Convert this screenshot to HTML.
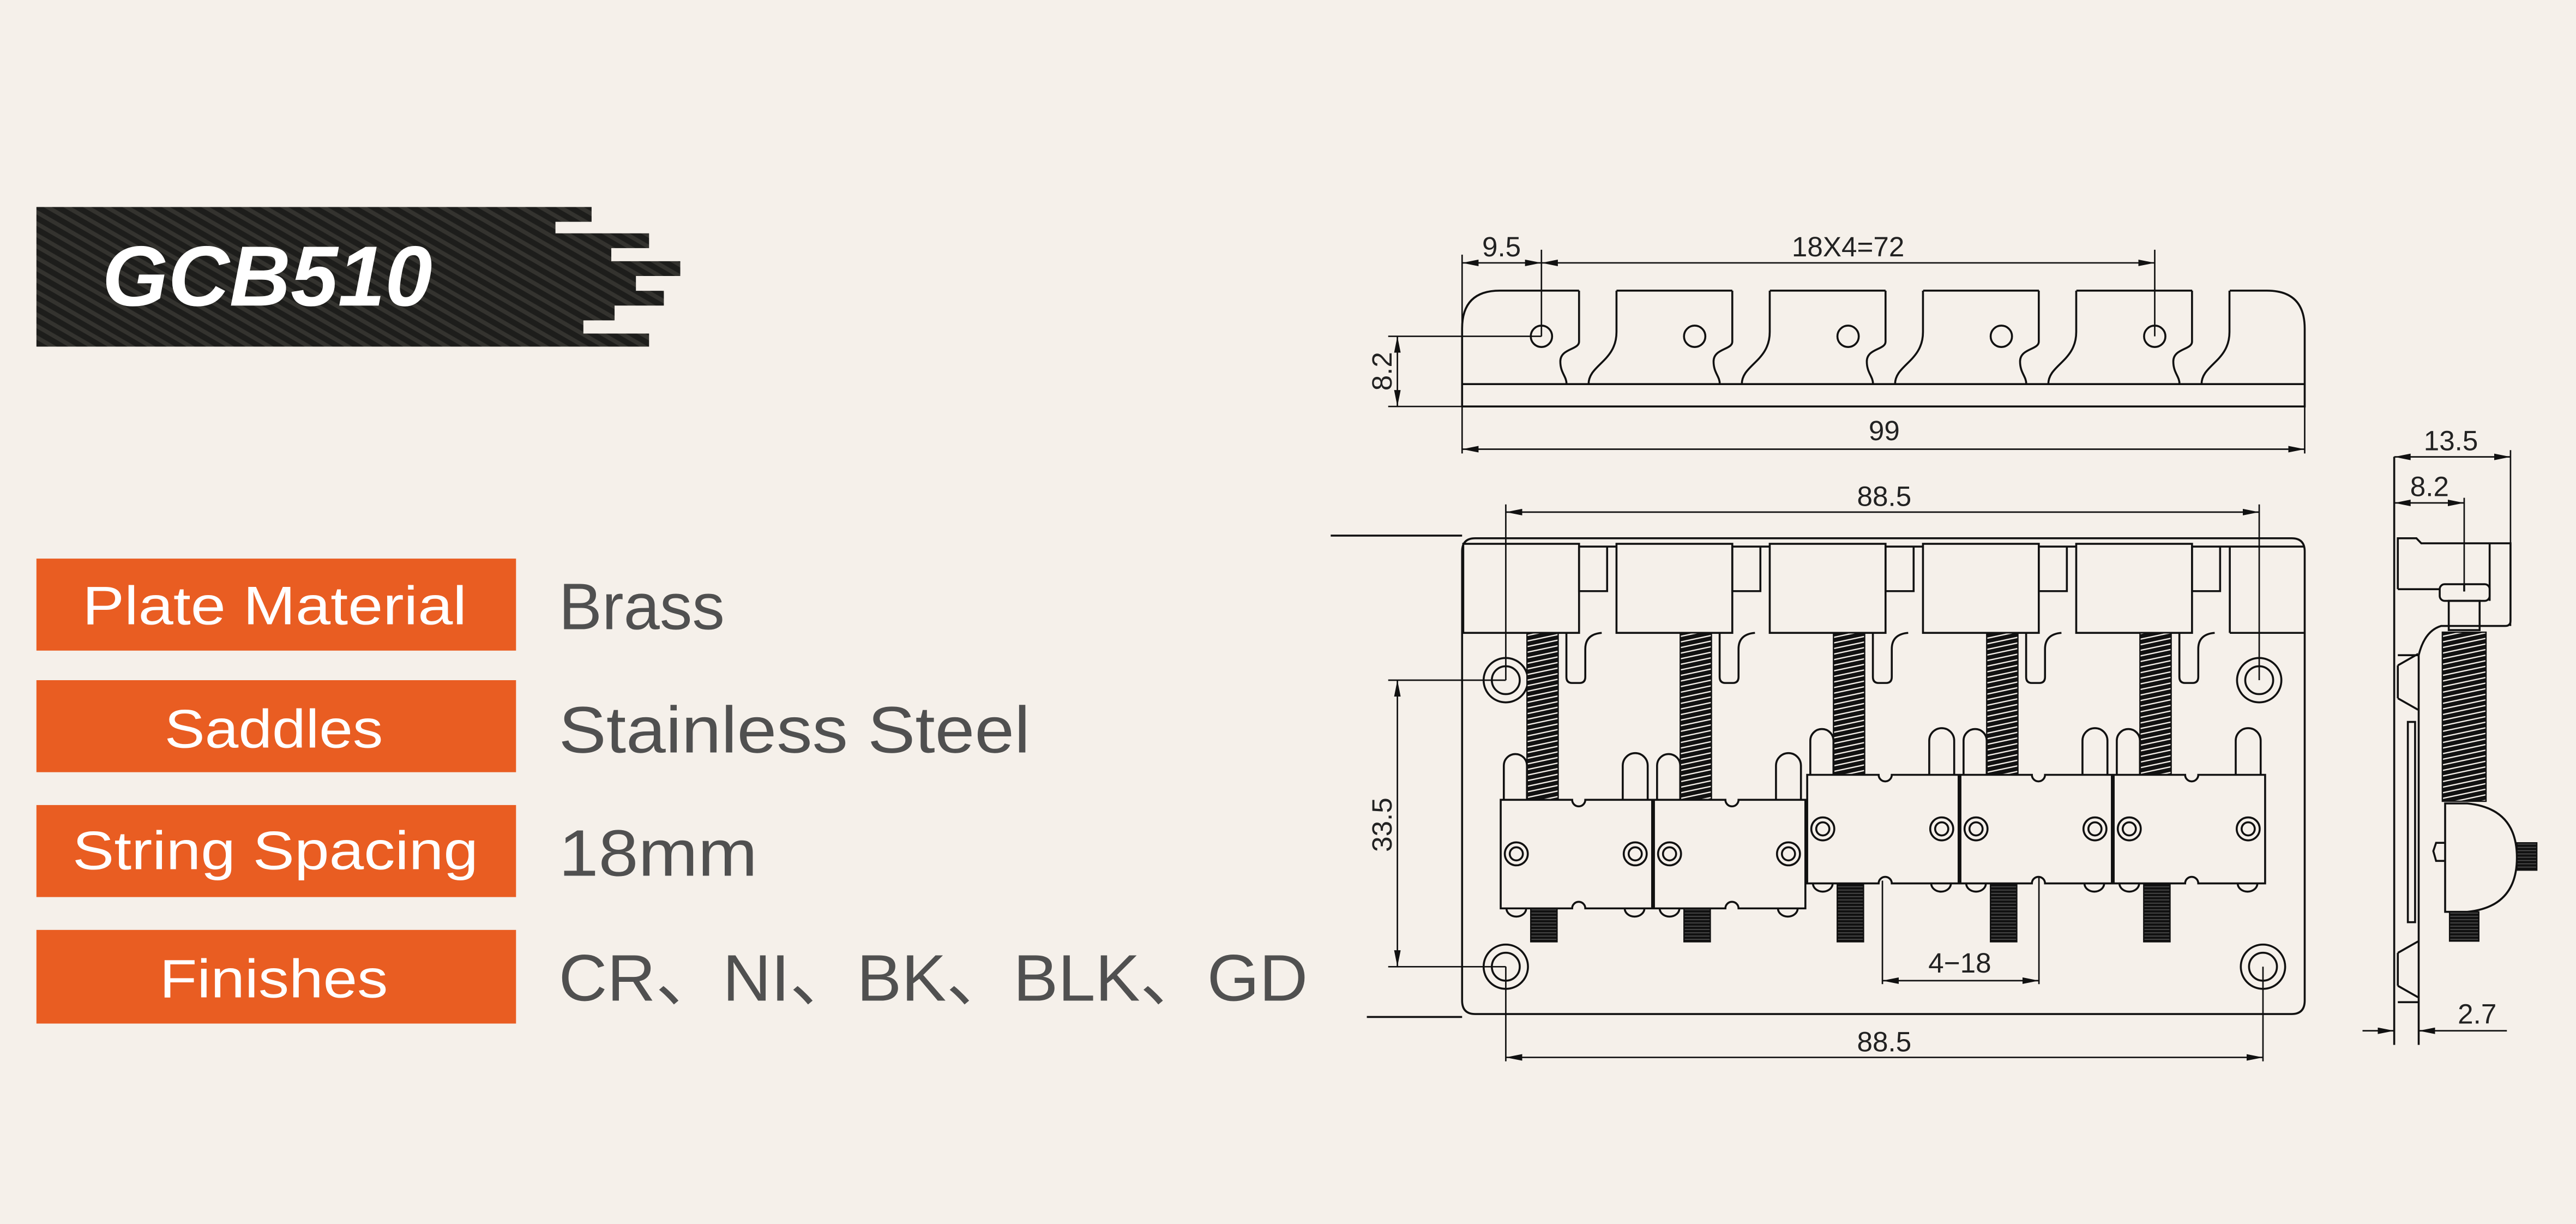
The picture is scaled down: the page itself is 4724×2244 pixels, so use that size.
<!DOCTYPE html>
<html><head><meta charset="utf-8"><style>
html,body{margin:0;padding:0;background:#f5f0ea;}
svg{display:block;}
</style></head><body>
<svg width="4724" height="2244" viewBox="0 0 1568 745" xmlns="http://www.w3.org/2000/svg">
<defs>
<pattern id="carbon" width="6" height="6" patternUnits="userSpaceOnUse" patternTransform="rotate(-60)">
<rect width="6" height="6" fill="#1d1d1b"/><rect width="2.5" height="6" fill="#34332f"/>
</pattern>
<pattern id="coil" width="20" height="3.4" patternUnits="userSpaceOnUse" patternTransform="skewY(-12)">
<rect width="20" height="3.4" fill="#111"/><rect y="2.6" width="20" height="0.8" fill="#f5f0ea"/>
</pattern>
<pattern id="thr" width="20" height="2" patternUnits="userSpaceOnUse">
<rect width="20" height="2" fill="#111"/><rect y="1.5" width="20" height="0.5" fill="#555"/>
</pattern>
<marker id="ar" viewBox="0 0 10 4" refX="10" refY="2" markerWidth="10" markerHeight="4" orient="auto-start-reverse" markerUnits="userSpaceOnUse">
<path d="M0,0 L10,2 L0,4 Z" fill="#111"/></marker>
</defs>
<rect width="1568" height="745" fill="#f5f0ea"/>

<!-- header -->
<path d="M22,126 H360 V135 H338 V142 H395 V151 H372 V159 H414 V168 H387 V177 H404 V186 H374 V195 H355 V203 H395 V211 H22 Z" fill="url(#carbon)"/>
<text x="62" y="186" font-family="Liberation Sans, sans-serif" font-weight="bold" font-style="italic" font-size="52" fill="#fff" textLength="201" lengthAdjust="spacingAndGlyphs">GCB510</text>

<!-- spec labels -->
<g font-family="Liberation Sans, sans-serif">
<rect x="22" y="340" width="292" height="56" fill="#e95d22"/>
<rect x="22" y="414" width="292" height="56" fill="#e95d22"/>
<rect x="22" y="490" width="292" height="56" fill="#e95d22"/>
<rect x="22" y="566" width="292" height="57" fill="#e95d22"/>
<g fill="#fff" font-size="33">
<text x="50" y="380" textLength="234" lengthAdjust="spacingAndGlyphs">Plate Material</text>
<text x="100" y="455" textLength="133" lengthAdjust="spacingAndGlyphs">Saddles</text>
<text x="44" y="529" textLength="247" lengthAdjust="spacingAndGlyphs">String Spacing</text>
<text x="97" y="607" textLength="139" lengthAdjust="spacingAndGlyphs">Finishes</text>
</g>
<g fill="#505050" font-size="40">
<text x="340" y="383" textLength="101" lengthAdjust="spacingAndGlyphs">Brass</text>
<text x="340" y="458" textLength="287" lengthAdjust="spacingAndGlyphs">Stainless Steel</text>
<text x="340" y="533" textLength="121" lengthAdjust="spacingAndGlyphs">18mm</text>
<text x="340" y="609" textLength="456" lengthAdjust="spacingAndGlyphs" font-family="Liberation Sans, Noto Sans CJK SC, sans-serif">CR、NI、BK、BLK、GD</text>
</g>
</g>

<!-- ===== top view ===== -->
<g fill="none" stroke="#111" stroke-width="1.2">
<path d="M890,247.4 V200 Q890,176.9 913,176.9 H961.2"/>
<path d="M984,176.9 H1054.5 M1077.4,176.9 H1147.8 M1170.7,176.9 H1241.2 M1264,176.9 H1334.5"/>
<path d="M1357.4,176.9 H1380 Q1403,176.9 1403,200 V247.4 H890"/>
<line x1="890" y1="233.8" x2="1403" y2="233.8"/>
<g id="slot">
<path d="M961.2,176.9 V208 C961.2,213 949.8,212 949.8,220 C949.8,227 953.6,229 953.6,233.8"/>
<path d="M984,176.9 V202 C984,220 967,222 967,233.8"/>
</g>
<use href="#slot" x="93.3"/><use href="#slot" x="186.6"/><use href="#slot" x="279.9"/><use href="#slot" x="373.2"/>
<circle cx="938.3" cy="204.7" r="6.5"/><circle cx="1031.6" cy="204.7" r="6.5"/><circle cx="1125" cy="204.7" r="6.5"/><circle cx="1218.3" cy="204.7" r="6.5"/><circle cx="1311.7" cy="204.7" r="6.5"/>
</g>
<!-- top view dims -->
<g stroke="#111" stroke-width="0.9" fill="none">
<line x1="890" y1="155" x2="890" y2="247"/>
<line x1="938.3" y1="152" x2="938.3" y2="204.7"/>
<line x1="1311.7" y1="152" x2="1311.7" y2="204.7"/>
<line x1="890" y1="160" x2="938.3" y2="160" marker-start="url(#ar)" marker-end="url(#ar)"/>
<line x1="938.3" y1="160" x2="1311.7" y2="160" marker-start="url(#ar)" marker-end="url(#ar)"/>
<line x1="845" y1="204.7" x2="938.3" y2="204.7"/>
<line x1="845" y1="247.4" x2="890" y2="247.4"/>
<line x1="850.6" y1="204.7" x2="850.6" y2="247.4" marker-start="url(#ar)" marker-end="url(#ar)"/>
<line x1="890" y1="247.4" x2="890" y2="276"/>
<line x1="1403" y1="247.4" x2="1403" y2="276"/>
<line x1="890" y1="273.4" x2="1403" y2="273.4" marker-start="url(#ar)" marker-end="url(#ar)"/>
</g>
<g font-family="Liberation Sans, sans-serif" font-size="17" fill="#222" text-anchor="middle">
<text x="914" y="156">9.5</text>
<text x="1125" y="156">18X4=72</text>
<text x="1147" y="268">99</text>
<text transform="translate(847,226) rotate(-90)">8.2</text>
</g>

<!-- ===== front view ===== -->
<g fill="none" stroke="#111" stroke-width="1.2">
<path d="M898,327.6 H1395 Q1403,327.6 1403,335.6 V609 Q1403,617.2 1395,617.2 H898 Q890,617.2 890,609 V335.6 Q890,327.6 898,327.6 Z"/>
<line x1="890" y1="332.7" x2="1403" y2="332.7"/>
<line x1="810" y1="326" x2="890" y2="326"/>
<line x1="832" y1="619" x2="890" y2="619"/>
<!-- head blocks -->
<g id="head">
<rect x="890.7" y="331" width="70.5" height="54.2" fill="#f5f0ea"/>
<path d="M961.2,332.7 V359.8 H978.3 V332.7"/>
<path d="M953.5,385.2 V412 Q953.5,415.7 957,415.7 H961.5 Q965,415.7 965,412 V395 Q965,386 975,385.2"/>
</g>
<use href="#head" x="93.3"/><use href="#head" x="186.6"/><use href="#head" x="279.9"/><use href="#head" x="373.2"/>
<line x1="1357.4" y1="332.7" x2="1357.4" y2="385.2"/>
<line x1="1357.4" y1="385.2" x2="1403" y2="385.2"/>
<!-- mounting holes -->
<circle cx="916.6" cy="414" r="13.5"/><circle cx="916.6" cy="414" r="8.5"/>
<circle cx="1375.3" cy="414" r="13.5"/><circle cx="1375.3" cy="414" r="8.5"/>
<circle cx="916.6" cy="588.4" r="13.5"/><circle cx="916.6" cy="588.4" r="8.5"/>
<circle cx="1377.6" cy="588.4" r="13.5"/><circle cx="1377.6" cy="588.4" r="8.5"/>
</g>
<!-- springs -->
<g stroke="#111" stroke-width="0.8">
<rect x="929.5" y="385.2" width="19" height="101.6" fill="url(#coil)"/>
<rect x="1022.8" y="385.2" width="19" height="101.6" fill="url(#coil)"/>
<rect x="1116.1" y="385.2" width="19" height="86.4" fill="url(#coil)"/>
<rect x="1209.4" y="385.2" width="19" height="86.4" fill="url(#coil)"/>
<rect x="1302.7" y="385.2" width="19" height="86.4" fill="url(#coil)"/>
<!-- studs -->
<rect x="931.8" y="552.9" width="16" height="20.3" fill="url(#thr)"/>
<rect x="1025.1" y="552.9" width="16" height="20.3" fill="url(#thr)"/>
<rect x="1118.4" y="537.6" width="16" height="35.6" fill="url(#thr)"/>
<rect x="1211.7" y="537.6" width="16" height="35.6" fill="url(#thr)"/>
<rect x="1305" y="537.6" width="16" height="35.6" fill="url(#thr)"/>
</g>
<!-- saddles -->
<g fill="#f5f0ea" stroke="#111" stroke-width="1.2">
<g id="sad">
<path d="M915.4,486.8 V466 A7,7 0 0 1 929.5,466 V486.8"/>
<path d="M987.8,486.8 V466 A7.6,7.6 0 0 1 1003,466 V486.8"/>
<path d="M917,552.9 A6,5 0 0 0 929,552.9 M989,552.9 A6,5 0 0 0 1001,552.9" fill="none"/>
<path d="M913.5,486.8 H957 A4,4 0 0 0 965,486.8 H1005.7 V552.9 H965 A4,4 0 0 0 957,552.9 H913.5 Z"/>
<circle cx="923" cy="519.7" r="7"/><circle cx="923" cy="519.7" r="4"/>
<circle cx="995.4" cy="519.7" r="7"/><circle cx="995.4" cy="519.7" r="4"/>
</g>
<use href="#sad" x="93.3"/>
<use href="#sad" x="186.6" y="-15.2"/><use href="#sad" x="279.9" y="-15.2"/><use href="#sad" x="373.2" y="-15.2"/>
</g>
<!-- front dims -->
<g stroke="#111" stroke-width="0.9" fill="none">
<line x1="916.6" y1="307" x2="916.6" y2="414"/>
<line x1="1375.3" y1="307" x2="1375.3" y2="414"/>
<line x1="916.6" y1="311.7" x2="1375.3" y2="311.7" marker-start="url(#ar)" marker-end="url(#ar)"/>
<line x1="845" y1="414" x2="916.6" y2="414"/>
<line x1="845" y1="588.4" x2="916.6" y2="588.4"/>
<line x1="850.6" y1="414" x2="850.6" y2="588.4" marker-start="url(#ar)" marker-end="url(#ar)"/>
<line x1="1145.9" y1="536" x2="1145.9" y2="599"/>
<line x1="1241.2" y1="534" x2="1241.2" y2="599"/>
<line x1="1145.9" y1="596.9" x2="1241.2" y2="596.9" marker-start="url(#ar)" marker-end="url(#ar)"/>
<line x1="916.6" y1="588.4" x2="916.6" y2="646"/>
<line x1="1377.6" y1="588.4" x2="1377.6" y2="646"/>
<line x1="916.6" y1="643.6" x2="1377.6" y2="643.6" marker-start="url(#ar)" marker-end="url(#ar)"/>
</g>
<g font-family="Liberation Sans, sans-serif" font-size="17" fill="#222" text-anchor="middle">
<text x="1147" y="308">88.5</text>
<text x="1193" y="592">4−18</text>
<text x="1147" y="640">88.5</text>
<text transform="translate(847,502) rotate(-90)">33.5</text>
</g>

<!-- ===== side view ===== -->
<g fill="none" stroke="#111" stroke-width="1.2">
<line x1="1457.5" y1="278" x2="1457.5" y2="636"/>
<line x1="1472.4" y1="398.8" x2="1472.4" y2="636"/>
<path d="M1459.7,358.6 V327.6 H1471 L1474,330.7 H1528.3 V378 Q1528.3,381 1525,381 H1486 Q1476,384 1472.4,398.8"/>
<line x1="1459.7" y1="358.6" x2="1485.2" y2="358.6"/>
<line x1="1515.6" y1="330.7" x2="1515.6" y2="365.7"/>
<rect x="1485.2" y="355.6" width="30.4" height="10.1" rx="3" fill="#f5f0ea"/>
<line x1="1500.1" y1="355.6" x2="1500.1" y2="360"/>
<rect x="1490.7" y="365.7" width="18.8" height="17.8"/>
<path d="M1459.7,398.8 L1472.4,398.8 M1459.7,405 V425 M1459.7,405 L1472,398 M1459.7,425 L1472,432"/>
<rect x="1465.8" y="439.4" width="4.4" height="121.9"/>
<path d="M1459.7,580 V600 M1459.7,580 L1472,573 M1459.7,600 L1472,607 M1459.7,610 L1472,610"/>
<path d="M1488.5,489 H1502 Q1532.2,492 1532.2,522 Q1532.2,552 1502,555 H1488.5 Z" fill="#f5f0ea"/>
<path d="M1488.5,513 H1483 L1481.3,518 L1483,524 H1488.5"/>
</g>
<rect x="1486.8" y="384.8" width="26.6" height="102.9" fill="url(#coil)" stroke="#111" stroke-width="0.8"/>
<rect x="1532.2" y="513" width="12.1" height="16.6" fill="url(#thr)" stroke="#111" stroke-width="0.8"/>
<rect x="1491.2" y="555" width="17.8" height="17.8" fill="url(#thr)" stroke="#111" stroke-width="0.8"/>
<g stroke="#111" stroke-width="0.9" fill="none">
<line x1="1528.3" y1="274" x2="1528.3" y2="381"/>
<line x1="1457.5" y1="278.1" x2="1528.3" y2="278.1" marker-start="url(#ar)" marker-end="url(#ar)"/>
<line x1="1500.1" y1="303" x2="1500.1" y2="360"/>
<line x1="1457.5" y1="306.1" x2="1500.1" y2="306.1" marker-start="url(#ar)" marker-end="url(#ar)"/>
<line x1="1438.2" y1="627.4" x2="1457.5" y2="627.4" marker-end="url(#ar)"/>
<line x1="1526.1" y1="627.4" x2="1472.4" y2="627.4" marker-end="url(#ar)"/>
</g>
<g font-family="Liberation Sans, sans-serif" font-size="17" fill="#222" text-anchor="middle">
<text x="1492" y="274">13.5</text>
<text x="1479" y="302">8.2</text>
<text x="1508" y="623">2.7</text>
</g>
</svg>
</body></html>
